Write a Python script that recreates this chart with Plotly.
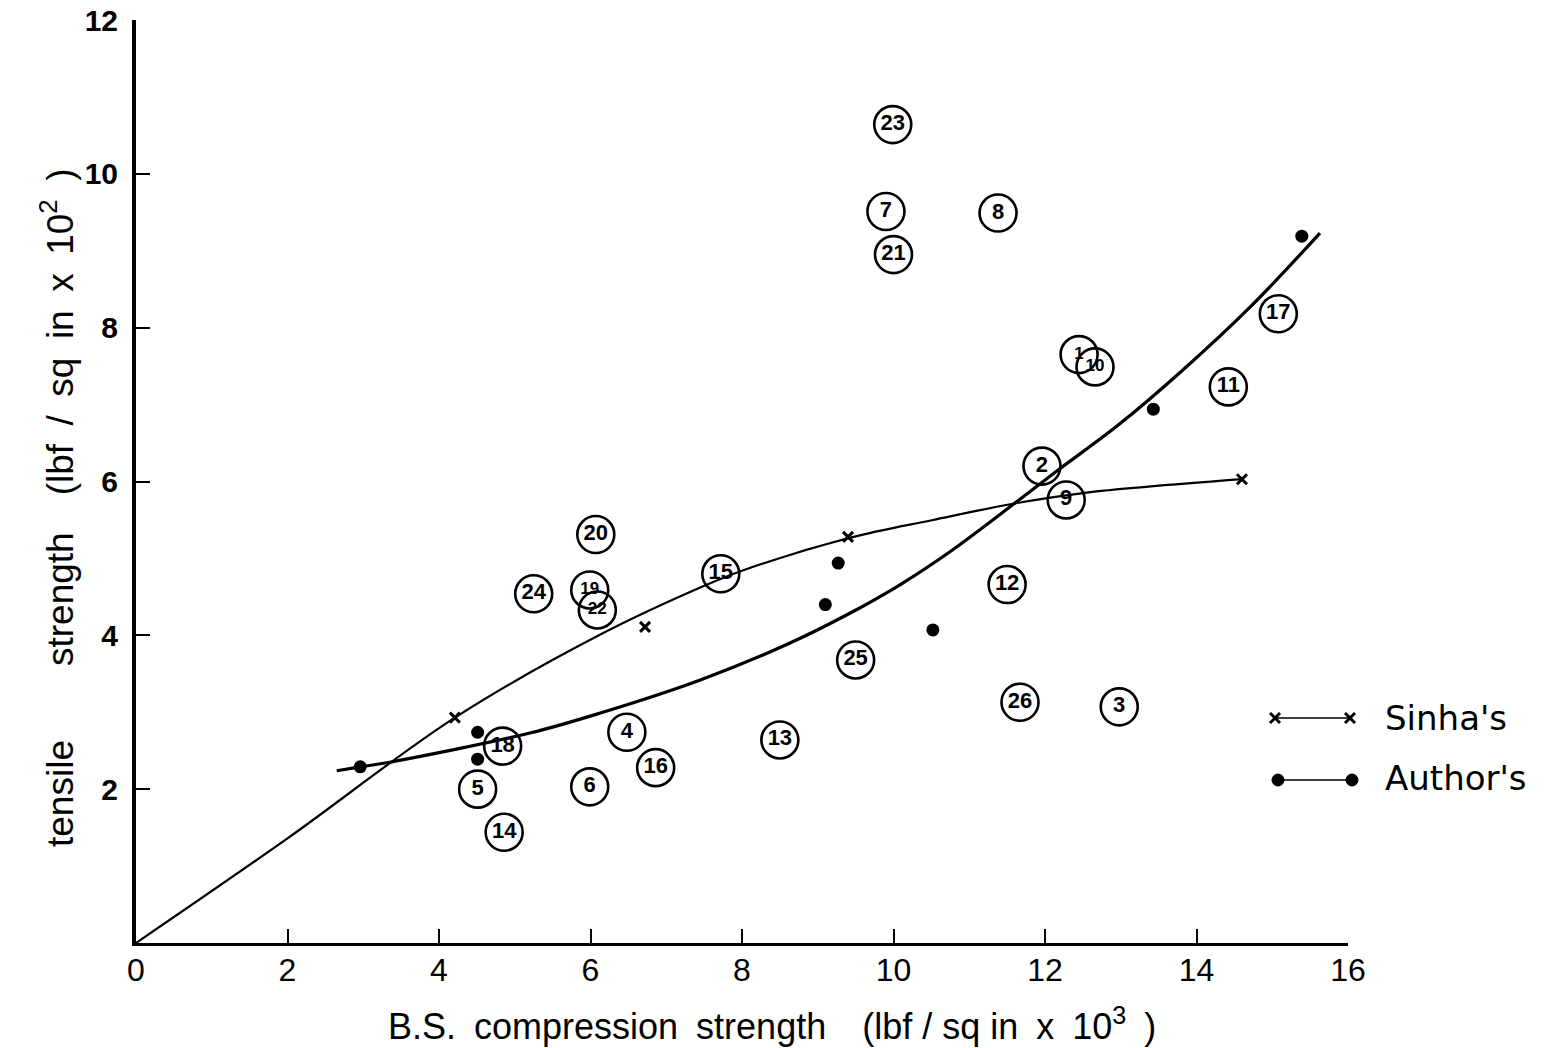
import plotly.graph_objects as go

# ---- Data ----
sample_ids = ["23", "7", "8", "21", "17", "1", "10", "11", "2", "9", "20", "15", "12",
              "24", "19", "22", "25", "26", "3", "4", "13", "18", "16", "5", "6", "14"]
sample_x = [9.99, 9.90, 11.38, 10.00, 15.08, 12.45, 12.66, 14.42, 11.96, 12.28, 6.07, 7.72, 11.50,
            5.25, 5.99, 6.09, 9.50, 11.67, 12.98, 6.48, 8.50, 4.84, 6.86, 4.51, 5.99, 4.86]
sample_y = [10.64, 9.51, 9.49, 8.95, 8.18, 7.65, 7.49, 7.23, 6.20, 5.76, 5.31, 4.80, 4.66,
            4.54, 4.59, 4.33, 3.68, 3.13, 3.07, 2.74, 2.64, 2.56, 2.28, 2.00, 2.03, 1.44]

sinha_pts_x = [4.21, 6.72, 9.40, 14.60]
sinha_pts_y = [2.93, 4.11, 5.28, 6.03]
sinha_curve_x = [0.0, 2.0, 4.21, 6.13, 7.54, 8.0, 9.43, 10.52, 11.63, 12.5, 14.6]
sinha_curve_y = [0.0, 1.36, 2.93, 4.01, 4.66, 4.84, 5.27, 5.50, 5.72, 5.85, 6.03]

author_pts_x = [2.96, 4.51, 4.51, 9.10, 9.27, 10.52, 13.43, 15.39]
author_pts_y = [2.29, 2.74, 2.39, 4.40, 4.94, 4.07, 6.94, 9.19]
author_curve_x = [2.65, 2.96, 3.35, 5.20, 6.13, 7.45, 8.59, 9.43, 10.09, 10.75, 11.63, 12.16,
                  12.95, 13.82, 14.71, 15.63]
author_curve_y = [2.24, 2.29, 2.35, 2.73, 2.99, 3.42, 3.88, 4.29, 4.66, 5.09, 5.74, 6.14,
                  6.72, 7.45, 8.27, 9.23]

x_ticks = [0, 2, 4, 6, 8, 10, 12, 14, 16]
y_ticks = [2, 4, 6, 8, 10, 12]
legend_names = ["Sinha's", "Author's"]

FONT = "Liberation Sans"
LEGFONT = "DejaVu Sans"

# label font sizes for the circled numbers (smaller where circles overlap)
label_sizes = [17 if s in ("1", "10", "19", "22") else 22 for s in sample_ids]

# plot area in reference pixels (used to place layout items in paper coordinates)
L, R, T, B = 136, 1348, 20, 943
W, H = R - L, B - T
def px(xp):
    return (xp - L) / W
def py(yp):
    return (B - yp) / H

fig = go.Figure()

# curves
fig.add_trace(go.Scatter(x=sinha_curve_x, y=sinha_curve_y, mode="lines",
                         line=dict(color="black", width=2.2, shape="spline", smoothing=1.0),
                         showlegend=False, hoverinfo="skip"))
fig.add_trace(go.Scatter(x=author_curve_x, y=author_curve_y, mode="lines",
                         line=dict(color="black", width=3.2, shape="spline", smoothing=1.0),
                         showlegend=False, hoverinfo="skip"))

# points
fig.add_trace(go.Scatter(x=sinha_pts_x, y=sinha_pts_y, mode="markers",
                         marker=dict(symbol="x-thin", size=10, color="black",
                                     line=dict(color="black", width=3)),
                         showlegend=False))
fig.add_trace(go.Scatter(x=author_pts_x, y=author_pts_y, mode="markers",
                         marker=dict(symbol="circle", size=13, color="black"),
                         showlegend=False))

# circled sample numbers
fig.add_trace(go.Scatter(x=sample_x, y=sample_y, mode="markers+text", text=sample_ids,
                         textposition="middle center",
                         textfont=dict(family=FONT, size=label_sizes, color="black",
                                       weight="bold"),
                         marker=dict(symbol="circle", size=37, color="rgba(0,0,0,0)",
                                     line=dict(color="black", width=2.6)),
                         showlegend=False, cliponaxis=False))

# manual legend keys drawn as shapes (paper coordinates)
shapes = []
def add_line(x0, y0, x1, y1, w):
    shapes.append(dict(type="line", xref="paper", yref="paper",
                       x0=px(x0), y0=py(y0), x1=px(x1), y1=py(y1),
                       line=dict(color="black", width=w)))
def add_cross(cx, cy, r=5):
    add_line(cx - r, cy - r, cx + r, cy + r, 3)
    add_line(cx - r, cy + r, cx + r, cy - r, 3)
def add_dot(cx, cy, r=6):
    shapes.append(dict(type="circle", xref="paper", yref="paper",
                       x0=px(cx - r), y0=py(cy + r), x1=px(cx + r), y1=py(cy - r),
                       fillcolor="black", line=dict(color="black", width=1)))

add_line(1275, 718, 1350, 718, 1.5)
add_cross(1275, 718)
add_cross(1350, 718)
add_line(1278, 780, 1352, 780, 1.5)
add_dot(1278, 780)
add_dot(1352, 780)

annotations = [
    dict(text=legend_names[0], x=px(1383), y=py(718), xref="paper", yref="paper",
         xanchor="left", yanchor="middle", showarrow=False,
         font=dict(family=LEGFONT, size=34, color="black")),
    dict(text=legend_names[1], x=px(1383), y=py(778), xref="paper", yref="paper",
         xanchor="left", yanchor="middle", showarrow=False,
         font=dict(family=LEGFONT, size=34, color="black")),
    dict(text="tensile\u2003\u2003strength\u2003(lbf\u2002/\u2002sq\u2002in\u2002x\u200210<sup>2</sup>\u2002)",
         x=px(57), y=py(508),
         xref="paper", yref="paper", textangle=-90, showarrow=False, xanchor="center",
         yanchor="middle", font=dict(family=FONT, size=37, color="black")),
    dict(text="B.S.\u2002compression\u2002strength\u2003(lbf / sq in\u2002x\u200210<sup>3</sup>\u2002)",
         x=px(772), y=py(1024), xref="paper", yref="paper", showarrow=False,
         xanchor="center", yanchor="middle",
         font=dict(family=FONT, size=36, color="black")),
]

fig.update_layout(
    width=1564, height=1048,
    margin=dict(l=L, r=1564 - L - W, t=T, b=1048 - T - H, autoexpand=False),
    paper_bgcolor="white", plot_bgcolor="white",
    showlegend=False,
    xaxis=dict(range=[0, 16], tickvals=x_ticks, ticktext=[str(v) for v in x_ticks],
               showgrid=False, zeroline=False, showline=True, linecolor="black", linewidth=3,
               ticks="inside", ticklen=14, tickwidth=2, tickcolor="black", automargin=False,
               ticklabeloverflow="allow",
               tickfont=dict(family=FONT, size=32, color="black"), ticklabelstandoff=-3),
    yaxis=dict(range=[0, 12], tickvals=y_ticks, ticktext=[str(v) for v in y_ticks],
               showgrid=False, zeroline=False, showline=True, linecolor="black", linewidth=4,
               ticks="inside", ticklen=14, tickwidth=2, tickcolor="black", automargin=False,
               ticklabeloverflow="allow",
               tickfont=dict(family=FONT, size=30, color="black", weight="bold"),
               ticklabelstandoff=8),
    shapes=shapes,
    annotations=annotations,
)

fig.write_html("out.html", config={"displayModeBar": False},
               post_script="document.body.style.margin='0px';document.body.style.overflow='hidden';")
